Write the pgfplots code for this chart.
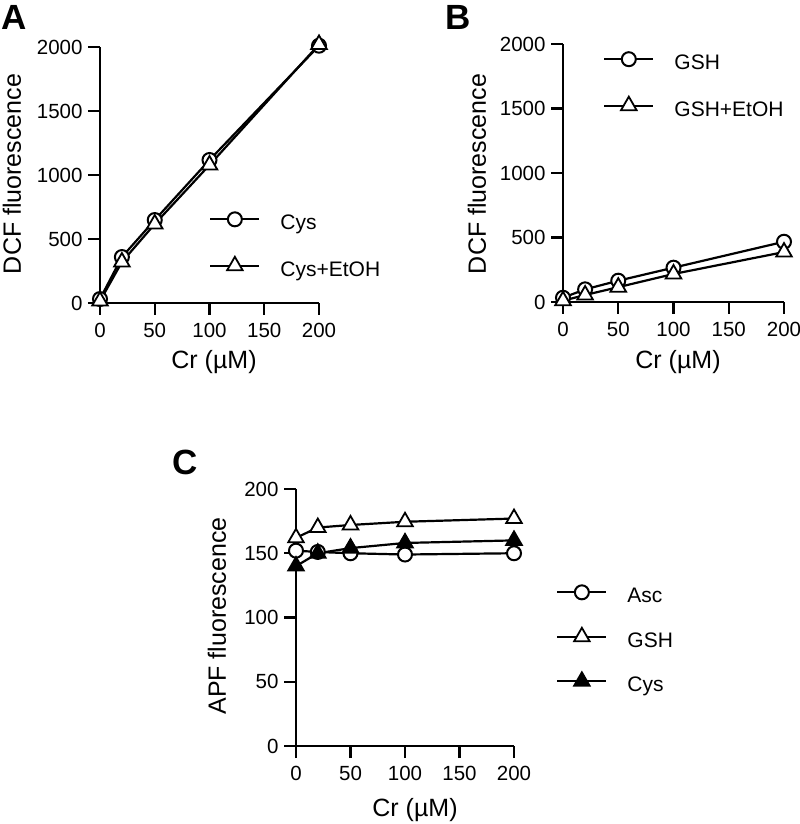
\documentclass[border=0pt]{standalone}
\usepackage{pgfplots}
\pgfplotsset{compat=1.18}
\usepackage{fontspec}
\setmainfont{Liberation Sans}
\newcommand{\tickfont}{\fontsize{20.5bp}{24bp}\selectfont}
\newcommand{\labfont}{\fontsize{25bp}{29bp}\selectfont}
\newcommand{\legfont}{\fontsize{21bp}{25bp}\selectfont}
\pgfplotsset{
  panel/.style={
    scale only axis,
    anchor=south west,
    xmin=0, xmax=200,
    axis x line*=bottom, axis y line*=left,
    axis line style={-, line width=2.2bp},
    every tick/.style={line width=2.2bp, black},
    tick align=outside,
    major tick length=12bp,
    xtick={0,50,100,150,200},
    clip=false,
    /pgf/number format/assume math mode=true,
    /pgf/number format/1000 sep={},
    scaled ticks=false,
    tick label style={font=\tickfont},
    xticklabel style={yshift=-5bp},
    yticklabel style={xshift=-2bp},
    every axis plot/.append style={line width=2.2bp, black},
    legend cell align=left,
    legend image code/.code={
      \draw[##1,mark repeat=2,mark phase=2] plot coordinates {(0bp,5bp)(24.5bp,5bp)(49bp,5bp)};
      \path (69bp,0bp);
    },
    legend style={draw=none, fill=none, inner sep=0pt, anchor=north west,
      row sep=23bp,
      nodes={inner sep=0pt, text height=15bp, text depth=4bp, font=\legfont}},
  },
  circ/.style={mark=*, mark size=7bp, mark options={fill=white, solid, line width=2bp}},
  tri/.style={mark=triangle*, mark size=9bp, mark options={fill=white, solid, line width=1.8bp}},
  trif/.style={mark=triangle*, mark size=9bp, mark options={fill=black, solid, line width=1.8bp}},
}
\begin{document}
\begin{tikzpicture}[x=1bp,y=1bp]
\useasboundingbox (0,0) rectangle (800,824);
% Panel A
\begin{axis}[panel, at={(100bp,521bp)}, width=219bp, height=256bp,
  ymin=0, ymax=2000, ytick={0,500,1000,1500,2000},
  legend style={at={(0.498,0.355)}}]
\addplot[circ] coordinates {(0,31) (20,359) (50,648) (100,1117) (200,2010)};
\addlegendentry{Cys}
\addplot[tri] coordinates {(0,15) (20,320) (50,617) (100,1078) (200,2020)};
\addlegendentry{Cys+EtOH}
\end{axis}
% Panel B
\begin{axis}[panel, at={(563bp,522bp)}, width=221bp, height=258bp,
  ymin=0, ymax=2000, ytick={0,500,1000,1500,2000},
  legend style={at={(0.181,0.969)}}]
\addplot[circ] coordinates {(0,33) (20,98) (50,165) (100,266) (200,467)};
\addlegendentry{GSH}
\addplot[tri] coordinates {(0,10) (20,54) (50,115) (100,217) (200,387)};
\addlegendentry{GSH+EtOH}
\end{axis}
% Panel C
\begin{axis}[panel, at={(296bp,78bp)}, width=218bp, height=257bp,
  ymin=0, ymax=200, ytick={0,50,100,150,200},
  legend style={at={(1.193,0.626)}, row sep=21bp}]
\addplot[circ] coordinates {(0,152) (20,151) (50,150) (100,149) (200,150)};
\addlegendentry{Asc}
\addplot[tri] coordinates {(0,162) (20,170) (50,172) (100,174.5) (200,177)};
\addlegendentry{GSH}
\addplot[trif] coordinates {(0,140) (20,150) (50,154) (100,158) (200,160)};
\addlegendentry{Cys}
\end{axis}
% axis titles and panel letters
\node[rotate=90, font=\labfont] at (12,650) {DCF fluorescence};
\node[font=\labfont] at (214,462) {Cr (\textmu M)};
\node[rotate=90, font=\labfont] at (477,650) {DCF fluorescence};
\node[font=\labfont] at (678,462) {Cr (\textmu M)};
\node[rotate=90, font=\labfont] at (217,208) {APF fluorescence};
\node[font=\labfont] at (415,14) {Cr (\textmu M)};
\node[font=\fontsize{35bp}{40bp}\selectfont\bfseries] at (14,806.5) {A};
\node[font=\fontsize{35bp}{40bp}\selectfont\bfseries] at (458,806.5) {B};
\node[font=\fontsize{35bp}{40bp}\selectfont\bfseries] at (185,362) {C};
\end{tikzpicture}
\end{document}
